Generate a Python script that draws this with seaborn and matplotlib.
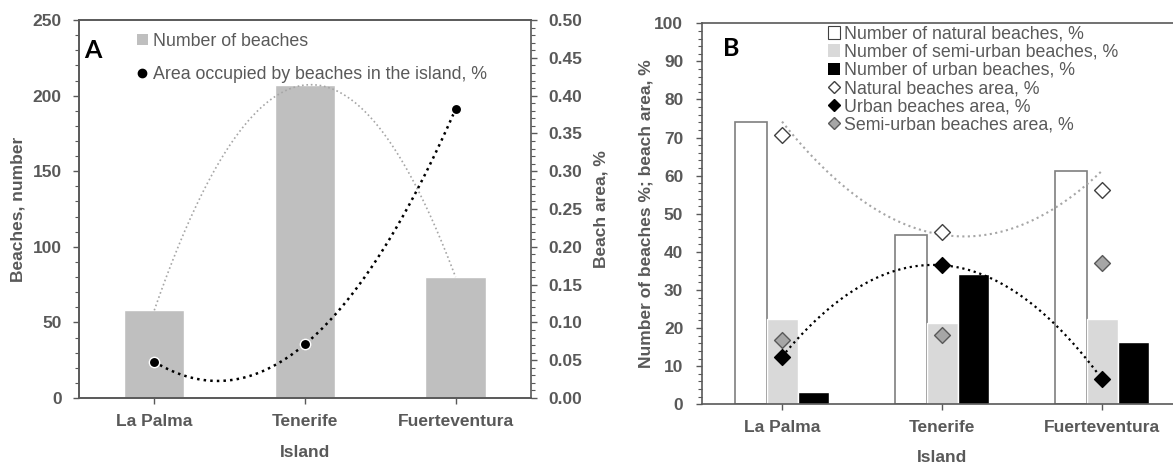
import numpy as np
import pandas as pd
import seaborn as sns
import matplotlib.pyplot as plt
from matplotlib.ticker import MultipleLocator, FormatStrFormatter
from matplotlib.lines import Line2D
from matplotlib.patches import Patch

# data
islands = ["La Palma", "Tenerife", "Fuerteventura"]
beaches = [58, 207, 80]
area_pct = [0.048, 0.071, 0.382]

natural_n = [74.2, 44.5, 61.3]
semi_n = [22.5, 21.3, 22.5]
urban_n = [3.3, 34.3, 16.3]
natural_area = [70.8, 45.2, 56.2]
urban_area = [12.5, 36.5, 6.6]
semi_area = [16.8, 18.3, 37.2]

sns.set_theme(style="ticks")
plt.rcParams["font.family"] = ["Liberation Sans", "DejaVu Sans"]

txt = "#595959"
spine_c = "#595959"
pos = np.arange(len(islands))


def trend(y):
    # 2nd order polynomial trend line, like the spreadsheet one
    c = np.polyfit(pos, y, 2)
    xs = np.linspace(pos[0], pos[-1], 200)
    return xs, np.polyval(c, xs)


def style_axis(ax, xpad=7, ypad=8):
    for s in ax.spines.values():
        s.set_color(spine_c)
        s.set_linewidth(1.2)
    ax.tick_params(axis="both", which="both", direction="out", colors=spine_c,
                   labelcolor=txt, labelsize=12.5)
    ax.tick_params(which="major", length=4.5, width=1)
    ax.tick_params(which="minor", length=3, width=0.8)
    ax.tick_params(axis="x", pad=xpad)
    ax.tick_params(axis="y", pad=ypad)
    for lab in ax.get_xticklabels() + ax.get_yticklabels():
        lab.set_fontweight("bold")


fig = plt.figure(figsize=(11.73, 4.67), dpi=100)
axA = fig.add_axes([0.0673, 0.1477, 0.3853, 0.8094])
axB = fig.add_axes([0.5985, 0.1343, 0.4092, 0.8158])

# ---------------- panel A ----------------
dfA = pd.DataFrame({"island": islands, "beaches": beaches})
sns.barplot(data=dfA, x="island", y="beaches", color="#bfbfbf", saturation=1,
            width=0.4, ax=axA)
xs, ys = trend(beaches)
sns.lineplot(x=xs, y=ys, color="#a6a6a6", linestyle=":", linewidth=1.2, ax=axA)
axA.set_ylim(0, 250)
axA.set_xlim(-0.5, 2.5)
axA.yaxis.set_major_locator(MultipleLocator(50))
axA.yaxis.set_minor_locator(MultipleLocator(10))
axA.set_xlabel("Island", fontsize=12.5, fontweight="bold", color=txt)
axA.set_ylabel("Beaches, number", fontsize=12.5, fontweight="bold", color=txt)
axA.xaxis.set_label_coords(0.5, -0.125)
axA.yaxis.set_label_coords(-0.118, 0.5)
axA.spines["right"].set_visible(False)

axA2 = axA.twinx()
xs, ys = trend(area_pct)
sns.lineplot(x=xs, y=ys, color="black", linestyle=":", linewidth=1.8, ax=axA2)
sns.scatterplot(x=pos, y=area_pct, color="black", s=55, edgecolor="white",
                linewidth=1, zorder=5, ax=axA2)
axA2.set_ylim(0, 0.5)
axA2.yaxis.set_major_locator(MultipleLocator(0.05))
axA2.yaxis.set_minor_locator(MultipleLocator(0.01))
axA2.yaxis.set_major_formatter(FormatStrFormatter("%.2f"))
axA2.set_ylabel("Beach area, %", fontsize=12.5, fontweight="bold", color=txt)
axA2.yaxis.set_label_coords(1.139, 0.5)
style_axis(axA)
style_axis(axA2)
axA2.tick_params(right=True, left=False)

hA = [Patch(facecolor="#bfbfbf", edgecolor="none"),
      Line2D([], [], marker="o", color="black", ls="", markersize=6)]
axA2.legend(hA, ["Number of beaches", "Area occupied by beaches in the island, %"],
            loc="upper left", bbox_to_anchor=(0.1126, 0.985), frameon=False,
            fontsize=12.8, labelcolor=txt, handlelength=0.6, handleheight=0.6,
            handletextpad=0.3, labelspacing=0.9, borderaxespad=0)
axA.text(0.011, 0.92, "A", transform=axA.transAxes, fontsize=18, fontweight="bold",
         family="Lato", color="black", va="center")

# ---------------- panel B ----------------
types = ["natural", "semi-urban", "urban"]
dfB = pd.DataFrame({
    "island": islands * 3,
    "type": [t for t in types for _ in islands],
    "value": natural_n + semi_n + urban_n,
})
sns.barplot(data=dfB, x="island", y="value", hue="type", hue_order=types,
            palette=["white", "#d9d9d9", "black"], saturation=1, width=0.582,
            legend=False, ax=axB)
for bar in axB.containers[0]:
    bar.set_edgecolor("#7f7f7f")
    bar.set_linewidth(1.2)

xs, ys = trend(natural_n)
sns.lineplot(x=xs, y=ys, color="#a6a6a6", linestyle=":", linewidth=1.5, ax=axB)
xs, ys = trend(urban_area)
sns.lineplot(x=xs, y=ys, color="black", linestyle=":", linewidth=1.6, ax=axB)

sns.scatterplot(x=pos, y=natural_area, marker="D", color="white", edgecolor="#404040",
                s=65, linewidth=1, zorder=5, ax=axB)
sns.scatterplot(x=pos, y=urban_area, marker="D", color="black", edgecolor="black",
                s=65, linewidth=1, zorder=5, ax=axB)
sns.scatterplot(x=pos, y=semi_area, marker="D", color="#a6a6a6", edgecolor="#595959",
                s=65, linewidth=1, zorder=5, ax=axB)

axB.set_ylim(0, 100)
axB.set_xlim(-0.5, 2.5)
axB.yaxis.set_major_locator(MultipleLocator(10))
axB.yaxis.set_minor_locator(MultipleLocator(2))
axB.set_xlabel("Island", fontsize=12.5, fontweight="bold", color=txt)
axB.set_ylabel("Number of beaches %; beach area, %", fontsize=12.5, fontweight="bold",
               color=txt)
axB.xaxis.set_label_coords(0.5, -0.12)
axB.yaxis.set_label_coords(-0.102, 0.5)
style_axis(axB, xpad=7, ypad=9)
axB.spines["right"].set_visible(False)

hB = [Patch(facecolor="white", edgecolor="#404040", linewidth=0.8),
      Patch(facecolor="#d9d9d9", edgecolor="none"),
      Patch(facecolor="black", edgecolor="none"),
      Line2D([], [], marker="D", color="white", markeredgecolor="#404040", ls="", markersize=6),
      Line2D([], [], marker="D", color="black", ls="", markersize=6),
      Line2D([], [], marker="D", color="#a6a6a6", markeredgecolor="#595959", ls="", markersize=6)]
lB = ["Number of natural beaches, %", "Number of semi-urban beaches, %",
      "Number of urban beaches, %", "Natural beaches area, %",
      "Urban beaches area, %", "Semi-urban beaches area, %"]
axB.legend(hB, lB, loc="upper left", bbox_to_anchor=(0.247, 1.012), frameon=False,
           fontsize=12.8, labelcolor=txt, handlelength=0.7, handleheight=0.7,
           handletextpad=0.2, labelspacing=0.06, borderaxespad=0)
axB.text(0.043, 0.935, "B", transform=axB.transAxes, fontsize=18, fontweight="bold",
         family="Lato", color="black", va="center")

fig.savefig("out.png", dpi=100)
